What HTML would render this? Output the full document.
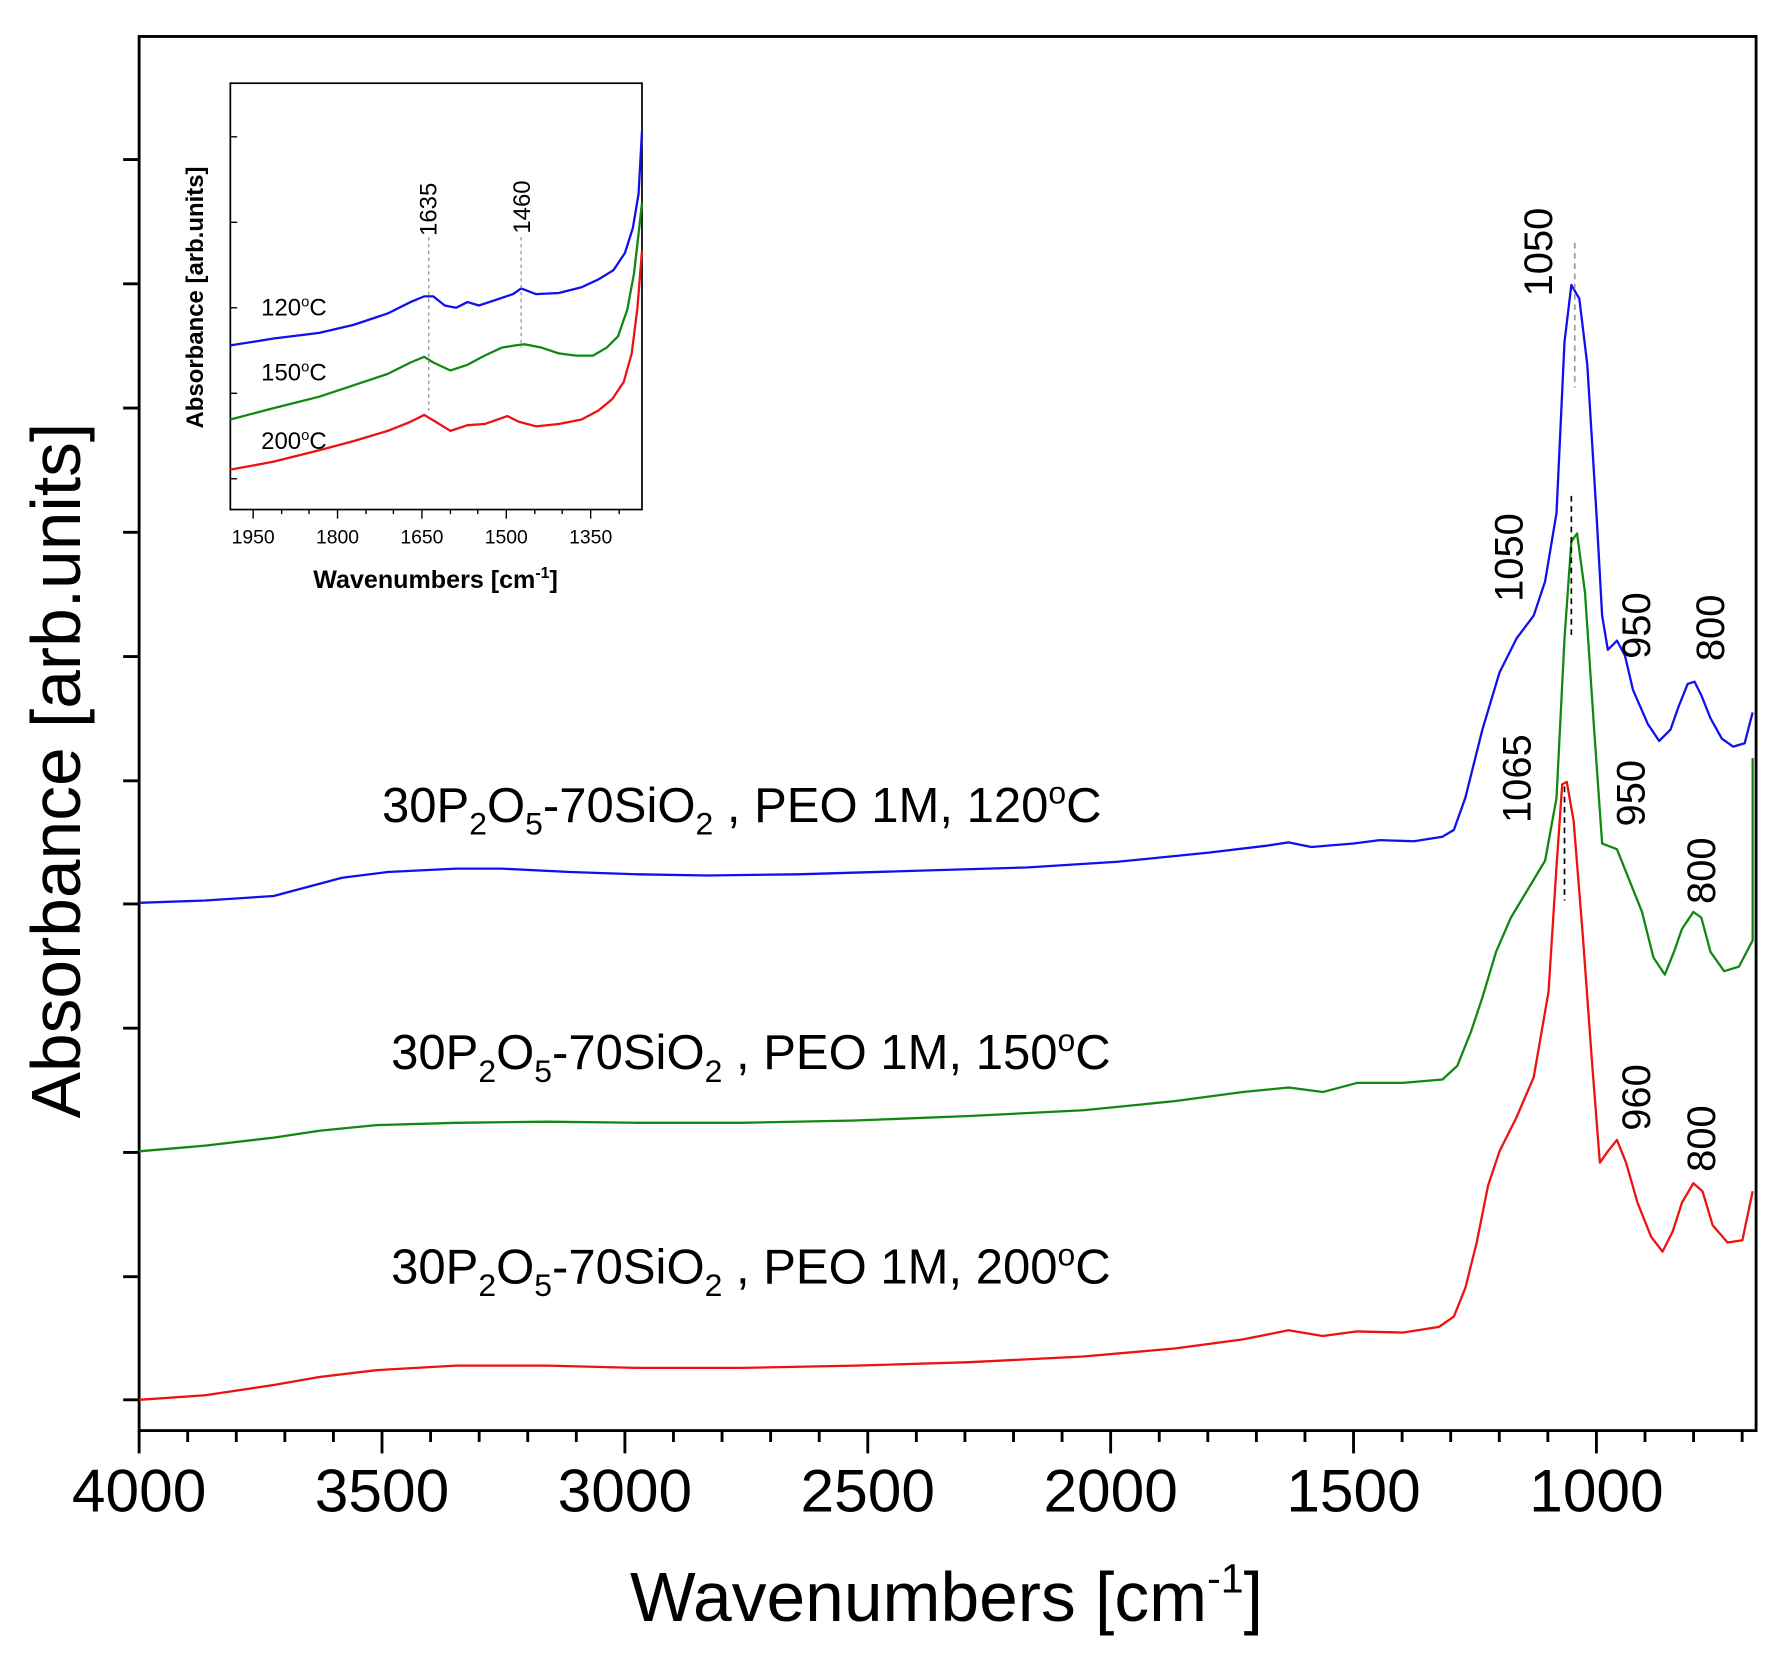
<!DOCTYPE html>
<html><head><meta charset="utf-8"><style>
html,body{margin:0;padding:0;background:#fff;}
svg{display:block;}
text{font-family:"Liberation Sans",Arial,sans-serif;fill:#000;}
</style></head><body>
<svg width="1788" height="1662" viewBox="0 0 1568 1458" preserveAspectRatio="none" xmlns="http://www.w3.org/2000/svg">
<rect x="0" y="0" width="1568" height="1458" fill="#fff"/>
<rect x="122" y="32" width="1418" height="1223" fill="none" stroke="#000" stroke-width="2.5"/>
<g stroke="#000" stroke-width="2.5">
<line x1="108" y1="140" x2="122" y2="140"/><line x1="108" y1="249" x2="122" y2="249"/>
<line x1="108" y1="358" x2="122" y2="358"/><line x1="108" y1="467" x2="122" y2="467"/>
<line x1="108" y1="576" x2="122" y2="576"/><line x1="108" y1="685" x2="122" y2="685"/>
<line x1="108" y1="793" x2="122" y2="793"/><line x1="108" y1="902" x2="122" y2="902"/>
<line x1="108" y1="1011" x2="122" y2="1011"/><line x1="108" y1="1120" x2="122" y2="1120"/>
<line x1="108" y1="1228" x2="122" y2="1228"/>
</g>
<g stroke="#000" stroke-width="2.5">
<line x1="122" y1="1255" x2="122" y2="1275"/><line x1="164.6" y1="1255" x2="164.6" y2="1265"/><line x1="207.2" y1="1255" x2="207.2" y2="1265"/><line x1="249.8" y1="1255" x2="249.8" y2="1265"/><line x1="292.4" y1="1255" x2="292.4" y2="1265"/>
<line x1="335" y1="1255" x2="335" y2="1275"/><line x1="377.6" y1="1255" x2="377.6" y2="1265"/><line x1="420.2" y1="1255" x2="420.2" y2="1265"/><line x1="462.8" y1="1255" x2="462.8" y2="1265"/><line x1="505.4" y1="1255" x2="505.4" y2="1265"/>
<line x1="548" y1="1255" x2="548" y2="1275"/><line x1="590.6" y1="1255" x2="590.6" y2="1265"/><line x1="633.2" y1="1255" x2="633.2" y2="1265"/><line x1="675.8" y1="1255" x2="675.8" y2="1265"/><line x1="718.4" y1="1255" x2="718.4" y2="1265"/>
<line x1="761" y1="1255" x2="761" y2="1275"/><line x1="803.6" y1="1255" x2="803.6" y2="1265"/><line x1="846.2" y1="1255" x2="846.2" y2="1265"/><line x1="888.8" y1="1255" x2="888.8" y2="1265"/><line x1="931.4" y1="1255" x2="931.4" y2="1265"/>
<line x1="974" y1="1255" x2="974" y2="1275"/><line x1="1016.6" y1="1255" x2="1016.6" y2="1265"/><line x1="1059.2" y1="1255" x2="1059.2" y2="1265"/><line x1="1101.8" y1="1255" x2="1101.8" y2="1265"/><line x1="1144.4" y1="1255" x2="1144.4" y2="1265"/>
<line x1="1187" y1="1255" x2="1187" y2="1275"/><line x1="1229.6" y1="1255" x2="1229.6" y2="1265"/><line x1="1272.2" y1="1255" x2="1272.2" y2="1265"/><line x1="1314.8" y1="1255" x2="1314.8" y2="1265"/><line x1="1357.4" y1="1255" x2="1357.4" y2="1265"/>
<line x1="1400" y1="1255" x2="1400" y2="1275"/><line x1="1442.6" y1="1255" x2="1442.6" y2="1265"/><line x1="1485.2" y1="1255" x2="1485.2" y2="1265"/><line x1="1527.8" y1="1255" x2="1527.8" y2="1265"/>
</g>
<g font-size="53" text-anchor="middle">
<text x="122" y="1326">4000</text><text x="335" y="1326">3500</text><text x="548" y="1326">3000</text>
<text x="761" y="1326">2500</text><text x="974" y="1326">2000</text><text x="1187" y="1326">1500</text><text x="1400" y="1326">1000</text>
</g>
<text x="830" y="1422" font-size="61" text-anchor="middle">Wavenumbers [cm<tspan dy="-25" font-size="36">-1</tspan><tspan dy="25">]</tspan></text>
<text transform="translate(70,676) rotate(-90)" font-size="61" text-anchor="middle">Absorbance [arb.units]</text>

<g fill="none" stroke-width="2" stroke-linejoin="round">
<polyline stroke="#1010ee" points="122,792 180,790 240,786 270,778 300,770 340,765 400,762 440,762 500,765 560,767 620,768 700,767 800,764 900,761 980,756 1060,748 1110,742 1130,739 1150,743 1187,740 1210,737 1240,738 1265,734 1275,728 1285,700 1300,640 1315,590 1330,560 1345,540 1355,510 1365,450 1372,300 1378,250 1385,262 1392,320 1400,450 1405,540 1410,570 1418,562 1425,575 1432,605 1445,635 1455,650 1465,640 1472,620 1480,600 1486,598 1492,610 1500,630 1510,648 1520,655 1530,652 1537,625"/>
<polyline stroke="#118811" points="122,1010 180,1005 240,998 280,992 330,987 400,985 480,984 560,985 650,985 750,983 850,979 950,974 1030,966 1090,958 1130,954 1160,958 1190,950 1230,950 1265,947 1278,935 1290,905 1300,875 1312,835 1325,805 1340,780 1355,755 1365,700 1372,560 1378,475 1383,468 1390,520 1398,640 1405,740 1418,745 1430,775 1440,800 1450,840 1460,855 1468,835 1475,815 1485,800 1492,805 1500,835 1512,852 1525,848 1537,825 1537,665"/>
<polyline stroke="#ee1111" points="122,1228 180,1224 240,1215 280,1208 330,1202 400,1198 480,1198 560,1200 650,1200 750,1198 850,1195 950,1190 1030,1183 1090,1175 1130,1167 1160,1172 1190,1168 1230,1169 1262,1164 1275,1155 1285,1130 1295,1090 1305,1040 1315,1010 1330,980 1345,945 1358,870 1365,760 1370,688 1374,686 1380,720 1388,820 1396,930 1403,1020 1410,1010 1418,1000 1426,1020 1436,1055 1448,1085 1458,1098 1467,1080 1475,1055 1485,1038 1493,1045 1502,1075 1515,1090 1528,1088 1537,1045"/>
</g>
<g stroke-width="1.5" stroke-dasharray="5,4" fill="none">
<line x1="1381" y1="213" x2="1381" y2="340" stroke="#999"/>
<line x1="1378" y1="435" x2="1378" y2="560" stroke="#000"/>
<line x1="1372" y1="690" x2="1372" y2="790" stroke="#000"/>
</g>
<g font-size="35">
<text transform="translate(1361,260) rotate(-90)">1050</text>
<text transform="translate(1335,528) rotate(-90)">1050</text>
<text transform="translate(1342,722) rotate(-90)">1065</text>
<text transform="translate(1447,578) rotate(-90)">950</text>
<text transform="translate(1512,580) rotate(-90)">800</text>
<text transform="translate(1442,725) rotate(-90)">950</text>
<text transform="translate(1504,793) rotate(-90)">800</text>
<text transform="translate(1447,992) rotate(-90)">960</text>
<text transform="translate(1504,1028) rotate(-90)">800</text>
</g>
<g font-size="43">
<text x="335" y="721">30P<tspan dy="11" font-size="28">2</tspan><tspan dy="-11">O</tspan><tspan dy="11" font-size="28">5</tspan><tspan dy="-11">-70SiO</tspan><tspan dy="11" font-size="28">2</tspan><tspan dy="-11"> , PEO 1M, 120</tspan><tspan dy="-16" font-size="28">o</tspan><tspan dy="16">C</tspan></text>
<text x="343" y="938">30P<tspan dy="11" font-size="28">2</tspan><tspan dy="-11">O</tspan><tspan dy="11" font-size="28">5</tspan><tspan dy="-11">-70SiO</tspan><tspan dy="11" font-size="28">2</tspan><tspan dy="-11"> , PEO 1M, 150</tspan><tspan dy="-16" font-size="28">o</tspan><tspan dy="16">C</tspan></text>
<text x="343" y="1126">30P<tspan dy="11" font-size="28">2</tspan><tspan dy="-11">O</tspan><tspan dy="11" font-size="28">5</tspan><tspan dy="-11">-70SiO</tspan><tspan dy="11" font-size="28">2</tspan><tspan dy="-11"> , PEO 1M, 200</tspan><tspan dy="-16" font-size="28">o</tspan><tspan dy="16">C</tspan></text>
</g>

<rect x="202" y="73" width="361" height="374" fill="#fff" stroke="#000" stroke-width="1.5"/>
<g stroke="#000" stroke-width="1.2">
<line x1="202" y1="120" x2="208" y2="120"/><line x1="202" y1="195" x2="208" y2="195"/><line x1="202" y1="270" x2="208" y2="270"/><line x1="202" y1="345" x2="208" y2="345"/><line x1="202" y1="420" x2="208" y2="420"/>
<line x1="222" y1="447" x2="222" y2="455"/><line x1="296" y1="447" x2="296" y2="455"/><line x1="370" y1="447" x2="370" y2="455"/><line x1="444" y1="447" x2="444" y2="455"/><line x1="518" y1="447" x2="518" y2="455"/>
<line x1="247" y1="447" x2="247" y2="451"/><line x1="271" y1="447" x2="271" y2="451"/><line x1="321" y1="447" x2="321" y2="451"/><line x1="345" y1="447" x2="345" y2="451"/><line x1="395" y1="447" x2="395" y2="451"/><line x1="419" y1="447" x2="419" y2="451"/><line x1="469" y1="447" x2="469" y2="451"/><line x1="493" y1="447" x2="493" y2="451"/><line x1="543" y1="447" x2="543" y2="451"/>
</g>
<g font-size="17" text-anchor="middle">
<text x="222" y="477">1950</text><text x="296" y="477">1800</text><text x="370" y="477">1650</text><text x="444" y="477">1500</text><text x="518" y="477">1350</text>
</g>
<text x="382" y="516" font-size="22" font-weight="bold" text-anchor="middle">Wavenumbers [cm<tspan dy="-9" font-size="14">-1</tspan><tspan dy="9">]</tspan></text>
<text transform="translate(178,261) rotate(-90)" font-size="21" font-weight="bold" text-anchor="middle">Absorbance [arb.units]</text>
<g fill="none" stroke-width="2" stroke-linejoin="round">
<polyline stroke="#1010ee" points="202,303 240,297 280,292 310,285 340,275 360,265 372,260 380,260 390,268 400,270 410,265 420,268 435,263 450,258 457,253 470,258 490,257 510,252 525,245 538,237 548,222 555,200 560,170 563,115"/>
<polyline stroke="#118811" points="202,368 240,358 280,348 310,338 340,328 360,318 372,313 380,318 395,325 410,320 425,312 440,305 452,303 460,302 475,305 490,310 505,312 520,312 532,305 542,295 550,272 556,240 560,205 563,178"/>
<polyline stroke="#ee1111" points="202,412 240,405 280,395 310,387 340,378 360,370 372,364 382,370 395,378 410,373 425,372 445,365 455,370 470,374 490,372 510,368 525,360 537,350 547,335 554,310 559,270 563,220"/>
</g>
<g stroke="#888" stroke-width="1" stroke-dasharray="3,3">
<line x1="376" y1="208" x2="376" y2="360"/><line x1="457" y1="208" x2="457" y2="305"/>
</g>
<g font-size="21">
<text transform="translate(383,207) rotate(-90)">1635</text>
<text transform="translate(465,205) rotate(-90)">1460</text>
<text x="229" y="277">120<tspan dy="-8" font-size="13">o</tspan><tspan dy="8">C</tspan></text>
<text x="229" y="334">150<tspan dy="-8" font-size="13">o</tspan><tspan dy="8">C</tspan></text>
<text x="229" y="394">200<tspan dy="-8" font-size="13">o</tspan><tspan dy="8">C</tspan></text>
</g>
</svg>
</body></html>
